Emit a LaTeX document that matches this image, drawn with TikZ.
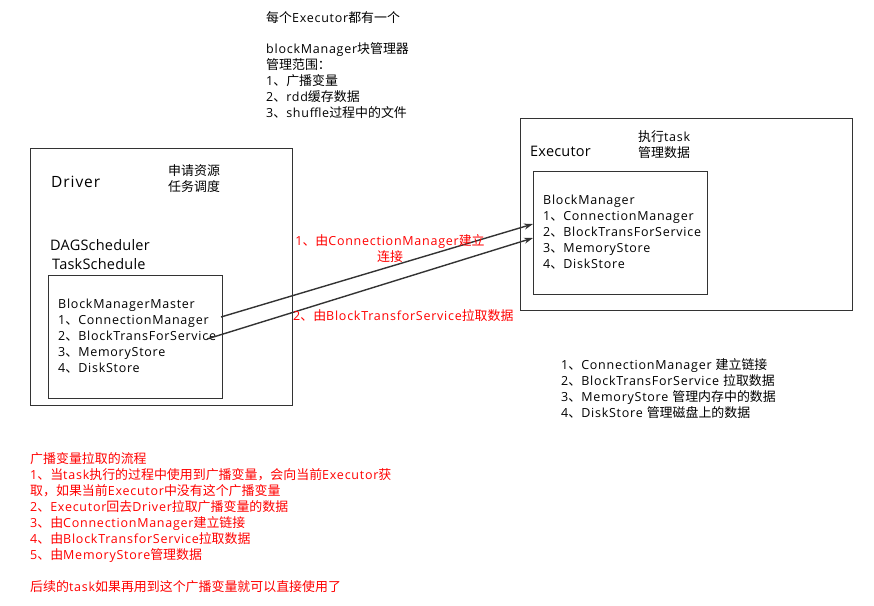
\documentclass[tikz,border=0pt]{standalone}
\usepackage{fontspec}
\setmainfont[LetterSpace=6]{Open Sans}
\newfontfamily\cjkf[Scale=1.035]{Noto Sans CJK SC}
\newfontfamily\latf[LetterSpace=6]{Open Sans}
\newfontfamily\bigf[LetterSpace=1.5]{Open Sans}
\def\curlat{\latf}
\XeTeXinterchartokenstate=1
\newXeTeXintercharclass\CJKclass
\count255="3000
\loop\XeTeXcharclass\count255=\CJKclass\ifnum\count255<"9FFF\advance\count255 by 1\repeat
\count255="FF00
\loop\XeTeXcharclass\count255=\CJKclass\ifnum\count255<"FFEF\advance\count255 by 1\repeat
\XeTeXinterchartoks 0 \CJKclass = {\cjkf}
\XeTeXinterchartoks 4095 \CJKclass = {\cjkf}
\XeTeXinterchartoks \CJKclass 0 = {\curlat}
\XeTeXinterchartoks 4095 0 = {\curlat}
\usetikzlibrary{arrows.meta}
\definecolor{ln}{HTML}{333333}
\definecolor{rd}{HTML}{FF0000}
\begin{document}
\begin{tikzpicture}[x=1pt,y=-1pt,
  box/.style={draw=ln,line width=1.4pt,inner sep=0pt,anchor=north west},
  txt/.style={inner sep=0pt,anchor=north west,align=left,font=\def\curlat{\latf}\latf\fontsize{12.5}{16}\selectfont},
  big/.style={inner sep=0pt,anchor=west,font=\def\curlat{\bigf}\bigf\fontsize{14.5}{19}\selectfont},
  red/.style={text=rd},
  arr/.style={draw=ln,line width=1.4pt,-{Stealth[length=9pt,width=6pt]}}]
\useasboundingbox (0,0) rectangle (874,605);
% boxes
\node[box,minimum width=262pt,minimum height=257pt] (driver) at (30,148) {};
\node[box,minimum width=174pt,minimum height=123pt] (bmm) at (48,275) {};
\node[box,minimum width=332pt,minimum height=192pt] (exec) at (520,118) {};
\node[box,minimum width=174pt,minimum height=123pt] (bm) at (533,171) {};
% top note
\node[txt] (note1) at (266,11) {每个Executor都有一个};
\node[txt] (note2) at (266,42) {blockManager块管理器\\管理范围：\\1、广播变量\\2、rdd缓存数据\\3、shuffle过程中的文件};
% driver
\node[big,font=\fontsize{15.5}{19}\selectfont] (drvlbl) at (51,182) {Driver};
\node[txt] (drvnote) at (168,164) {申请资源\\任务调度};
\node[big] (dag) at (50,245) {DAGScheduler};
\node[big] (ts) at (52,264) {TaskSchedule};
\node[txt] (bmmtxt) at (58,299) {BlockManagerMaster\\1、ConnectionManager\\2、BlockTransForService\\3、MemoryStore\\4、DiskStore};
% executor
\node[big] (exlbl) at (530,151) {Executor};
\node[txt] (exnote) at (638,130) {执行task\\管理数据};
\node[txt] (bmtxt) at (543,195) {BlockManager\\1、ConnectionManager\\2、BlockTransForService\\3、MemoryStore\\4、DiskStore};
% legend
\node[txt] (legend) at (561,358) {1、ConnectionManager 建立链接\\2、BlockTransForService 拉取数据\\3、MemoryStore 管理内存中的数据\\4、DiskStore 管理磁盘上的数据};
% arrows
\coordinate (s1) at (221,317);
\coordinate (e1) at (533,224);
\coordinate (s2) at (207,339);
\coordinate (e2) at (533,238);
\draw[arr] (s1) -- (e1);
\draw[arr] (s2) -- (e2);
\node[txt,red,align=center,anchor=north] (lab1) at (390,234) {1、由ConnectionManager建立\\连接};
\node[txt,red] (lab2) at (293,309) {2、由BlockTransforService拉取数据};
% bottom note
\node[txt,red] (flow) at (30,452) {广播变量拉取的流程\\1、当task执行的过程中使用到广播变量，会向当前Executor获\\取，如果当前Executor中没有这个广播变量\\2、Executor回去Driver拉取广播变量的数据\\3、由ConnectionManager建立链接\\4、由BlockTransforService拉取数据\\5、由MemoryStore管理数据\\[16pt]后续的task如果再用到这个广播变量就可以直接使用了};
\end{tikzpicture}
\end{document}
